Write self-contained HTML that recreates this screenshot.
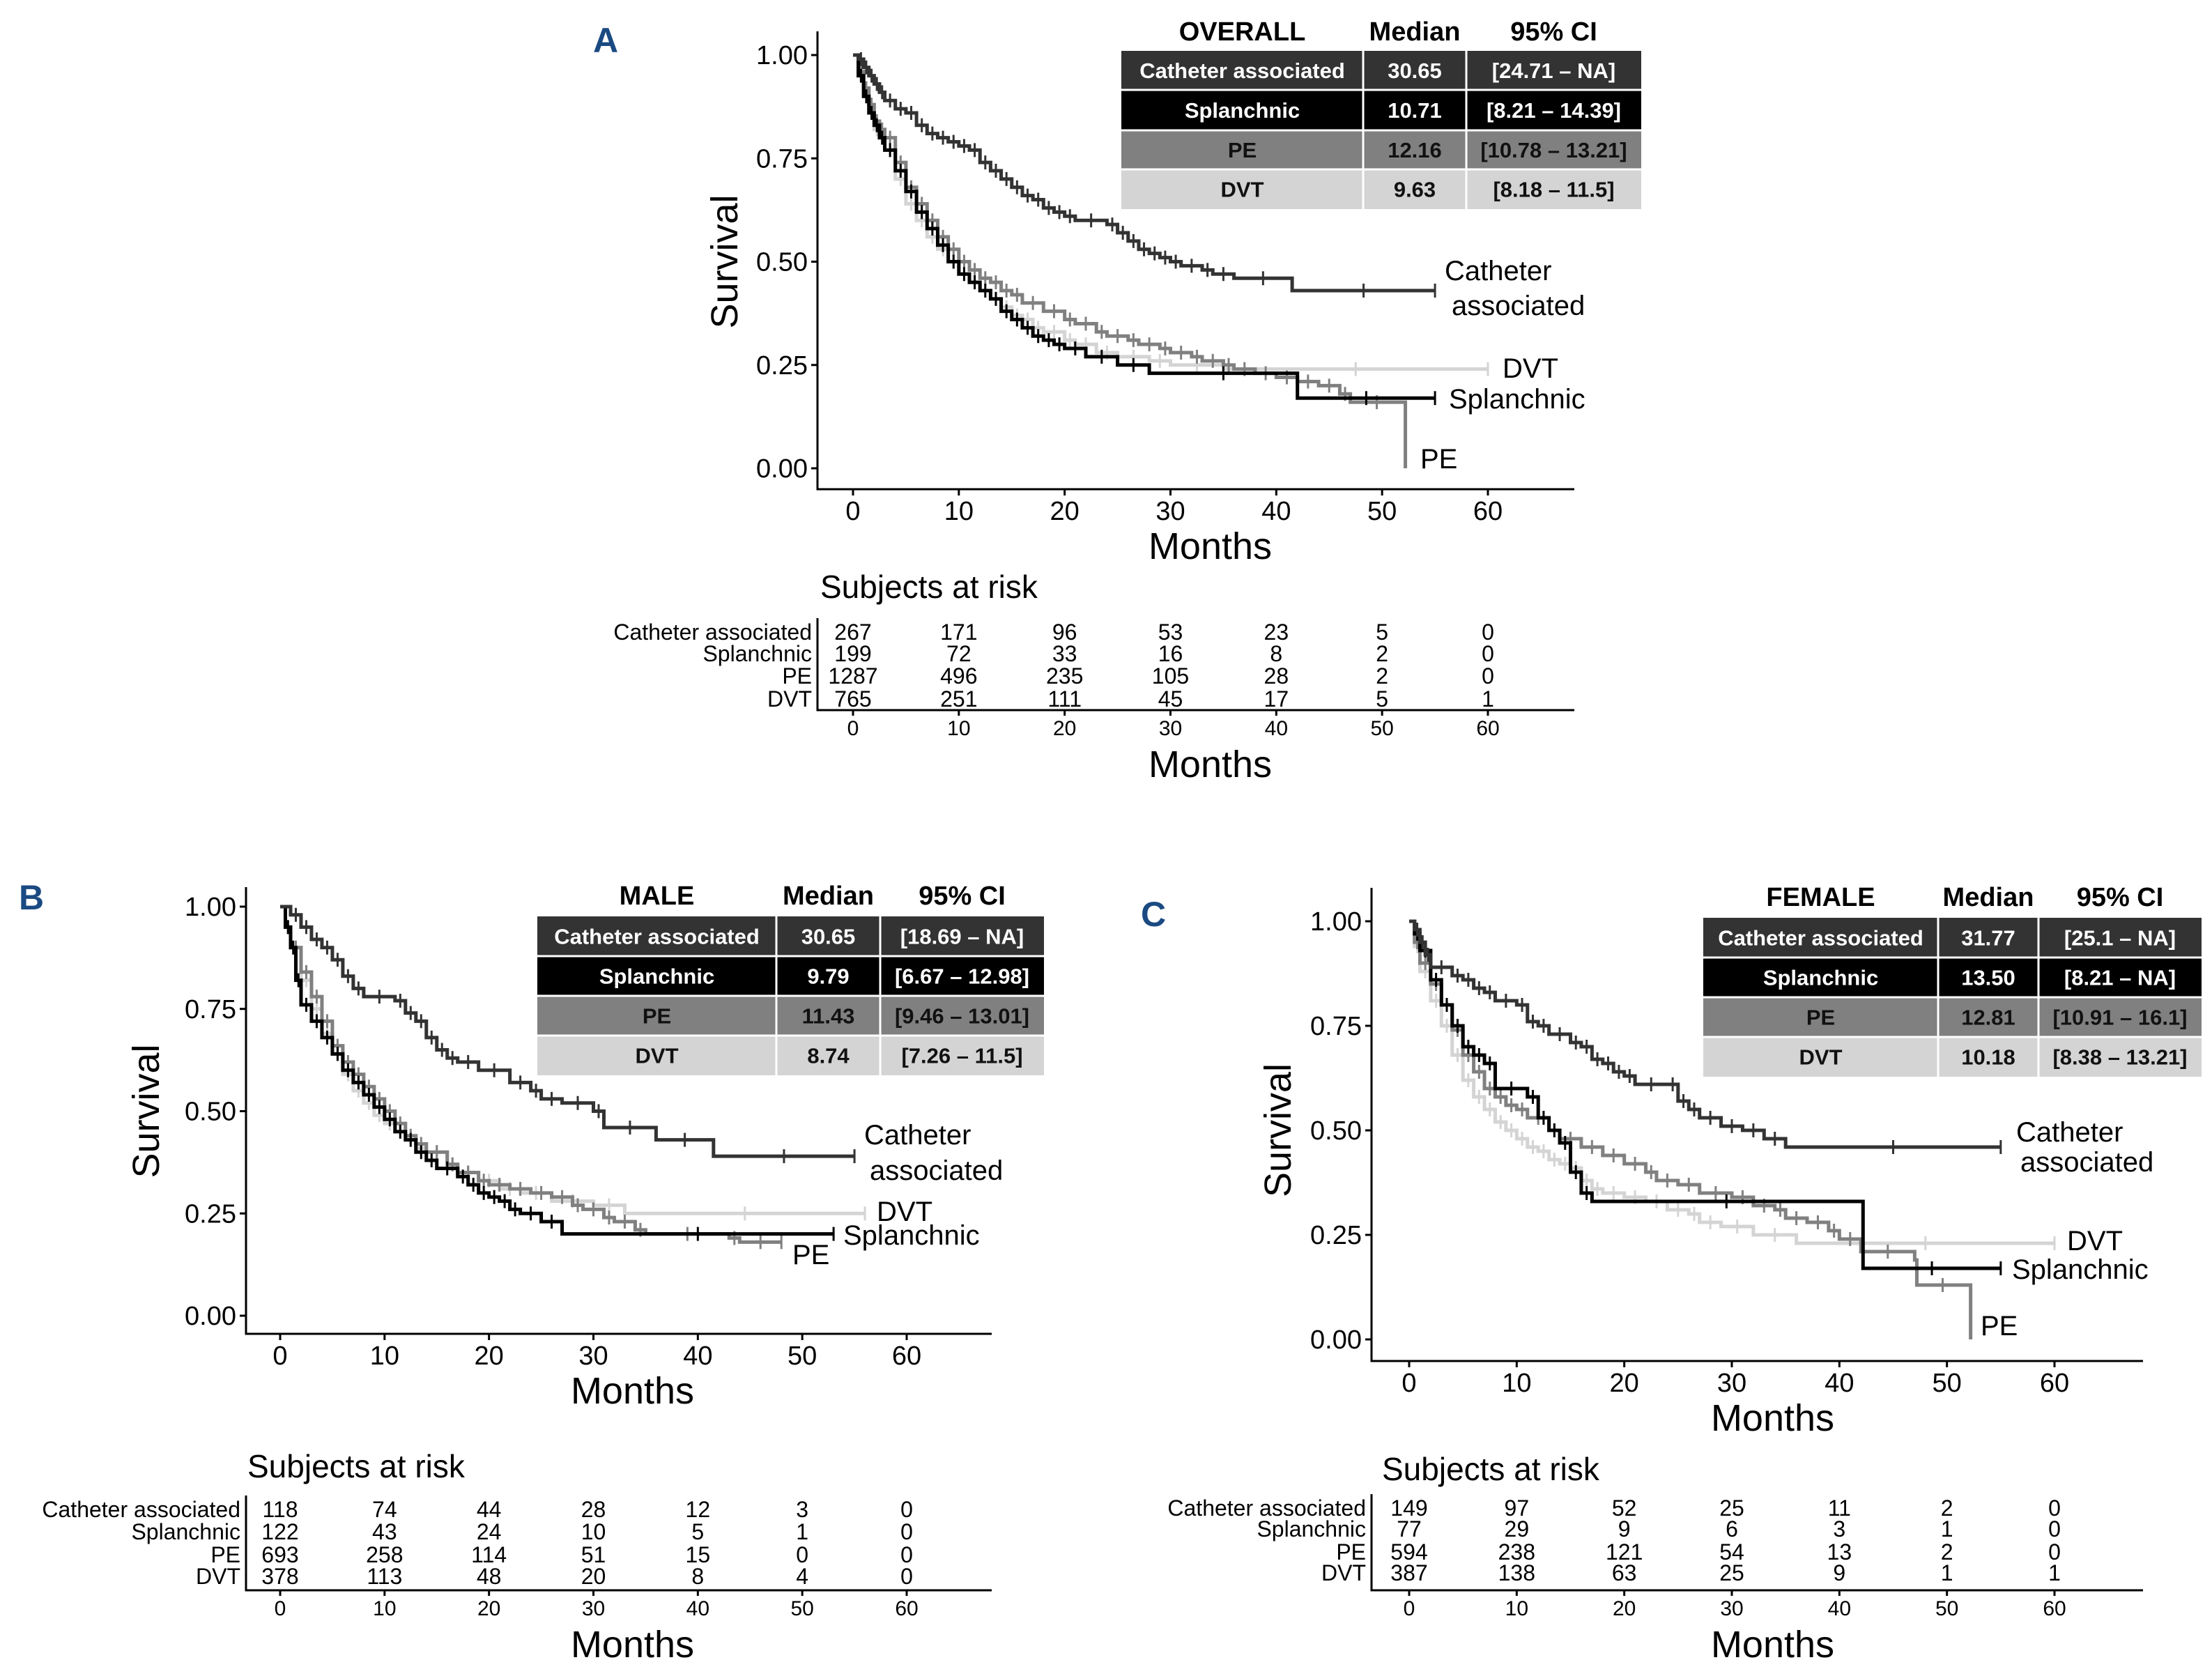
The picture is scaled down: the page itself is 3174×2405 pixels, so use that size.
<!DOCTYPE html>
<html><head><meta charset="utf-8"><style>
html,body{margin:0;padding:0;background:#fff;}
svg{display:block;font-family:"Liberation Sans",sans-serif;}
</style></head><body>
<svg id="fig" width="3174" height="2405" viewBox="0 0 3174 2405" xmlns="http://www.w3.org/2000/svg"></svg>
<script>
// ---------- DATA ----------
const xTicks = [0,10,20,30,40,50,60];
const yTicks = [0,0.25,0.5,0.75,1];
const yTickLabels = ["0.00","0.25","0.50","0.75","1.00"];
const groupNames = ["Catheter associated","Splanchnic","PE","DVT"];
// Panel A
const catA = [[0,1],[0.5,.99],[1,.97],[1.5,.95],[2,.93],[2.5,.91],[3,.89],[4,.87],[5,.86],[6,.83],[7,.81],[8,.80],[9,.79],[10,.78],[11,.77],[12,.74],[13,.72],[14,.70],[15,.68],[16,.66],[17,.65],[18,.63],[19,.62],[20,.61],[21,.60],[24,.59],[25,.57],[26,.55],[27,.53],[28,.52],[29,.51],[30,.50],[31,.49],[33,.48],[34,.47],[36,.46],[41.5,.43],[55,.43]];
const splA = [[0,1],[0.5,.95],[1,.9],[1.5,.86],[2,.83],[2.5,.80],[3,.77],[4,.72],[5,.67],[6,.62],[7,.58],[8,.54],[9,.50],[10,.47],[11,.45],[12,.43],[13,.41],[14,.38],[15,.36],[16,.34],[17,.32],[18,.31],[19,.30],[20,.29],[22,.27],[25,.25],[28,.23],[42,.17],[55,.17]];
const peA  = [[0,1],[0.5,.96],[1,.92],[1.5,.88],[2,.84],[2.5,.82],[3,.80],[4,.74],[5,.68],[6,.64],[7,.60],[8,.56],[9,.53],[10,.50],[11,.48],[12,.46],[13,.45],[14,.43],[15,.42],[16,.40],[18,.38],[20,.36],[21,.35],[23,.33],[24,.32],[26,.31],[27,.30],[29,.29],[30,.28],[32,.27],[33,.26],[35,.25],[36,.24],[38,.23],[40,.22],[42,.21],[44,.20],[46,.18],[47,.16],[52,.16],[52.2,0]];
const dvtA = [[0,1],[0.5,.95],[1,.9],[1.5,.86],[2,.82],[2.5,.80],[3,.77],[4,.70],[5,.64],[6,.60],[7,.56],[8,.53],[9,.50],[10,.47],[11,.45],[12,.43],[13,.41],[14,.39],[15,.37],[16,.36],[17,.34],[18,.33],[20,.31],[21,.30],[23,.28],[25,.27],[28,.26],[30,.25],[35,.24],[60,.24]];
const riskA = [[267,171,96,53,23,5,0],[199,72,33,16,8,2,0],[1287,496,235,105,28,2,0],[765,251,111,45,17,5,1]];
const medA = [["30.65","[24.71 – NA]"],["10.71","[8.21 – 14.39]"],["12.16","[10.78 – 13.21]"],["9.63","[8.18 – 11.5]"]];
// Panel B
const catB = [[0,1],[1,.98],[2,.95],[3,.92],[4,.9],[5,.87],[6,.83],[7,.80],[8,.78],[11,.77],[12,.74],[13,.72],[14,.68],[15,.65],[16,.63],[17,.62],[19,.60],[22,.57],[24,.55],[25,.53],[27,.52],[30,.50],[31,.46],[36,.43],[41.5,.39],[55,.39]];
const splB = [[0,1],[0.5,.95],[1,.9],[1.5,.82],[2,.76],[3,.72],[4,.68],[5,.64],[6,.60],[7,.57],[8,.54],[9,.51],[10,.48],[11,.45],[12,.43],[13,.40],[14,.38],[15,.36],[17,.34],[18,.32],[19,.30],[20,.29],[21,.28],[22,.26],[23,.25],[25,.23],[27,.20],[53,.20]];
const peB  = [[0,1],[0.5,.95],[1,.9],[2,.84],[3,.78],[4,.72],[5,.66],[6,.62],[7,.59],[8,.56],[9,.53],[10,.50],[11,.47],[12,.44],[13,.42],[14,.40],[16,.37],[17,.35],[19,.33],[20,.32],[22,.31],[24,.30],[26,.29],[28,.27],[29,.26],[31,.24],[32,.23],[34,.21],[35,.20],[43,.19],[44,.18],[48,.18]];
const dvtB = [[0,1],[0.5,.95],[1,.9],[2,.82],[3,.75],[4,.69],[5,.64],[6,.59],[7,.55],[8,.52],[9,.49],[10,.47],[11,.45],[12,.43],[13,.41],[14,.40],[16,.37],[17,.35],[19,.33],[21,.31],[23,.30],[26,.28],[30,.27],[33,.25],[56,.25]];
const riskB = [[118,74,44,28,12,3,0],[122,43,24,10,5,1,0],[693,258,114,51,15,0,0],[378,113,48,20,8,4,0]];
const medB = [["30.65","[18.69 – NA]"],["9.79","[6.67 – 12.98]"],["11.43","[9.46 – 13.01]"],["8.74","[7.26 – 11.5]"]];
// Panel C
const catC = [[0,1],[0.5,.98],[1,.95],[1.5,.92],[2,.89],[4,.87],[5,.86],[6,.84],[7,.83],[8,.81],[10,.80],[11,.76],[12,.75],[13,.73],[15,.71],[16,.70],[17,.67],[18,.66],[19,.64],[20,.63],[21,.61],[24,.61],[25,.57],[26,.55],[27,.53],[29,.51],[31,.50],[33,.48],[35,.46],[55,.46]];
const splC = [[0,1],[0.5,.97],[1,.93],[2,.86],[3,.80],[4,.75],[5,.70],[6,.68],[7,.66],[8,.60],[11,.58],[12,.53],[13,.50],[14,.47],[15,.40],[16,.35],[17,.33],[42,.33],[42.2,.17],[55,.17]];
const peC  = [[0,1],[0.5,.95],[1,.9],[2,.85],[3,.80],[4,.74],[5,.68],[6,.64],[7,.60],[8,.58],[9,.56],[10,.55],[11,.53],[13,.50],[14,.48],[16,.46],[18,.44],[20,.42],[22,.40],[23,.38],[25,.37],[27,.35],[30,.34],[32,.32],[34,.31],[35,.29],[37,.28],[39,.26],[40,.24],[42,.21],[47,.19],[47.2,.13],[52,.13],[52.2,0]];
const dvtC = [[0,1],[0.5,.94],[1,.88],[2,.81],[3,.75],[4,.68],[5,.62],[6,.58],[7,.55],[8,.52],[9,.50],[10,.48],[11,.46],[12,.45],[13,.43],[14,.42],[15,.41],[16,.38],[17,.36],[18,.35],[20,.34],[22,.33],[24,.31],[26,.30],[27,.28],[29,.27],[32,.25],[36,.23],[60,.23]];
const riskC = [[149,97,52,25,11,2,0],[77,29,9,6,3,1,0],[594,238,121,54,13,2,0],[387,138,63,25,9,1,1]];
const medC = [["31.77","[25.1 – NA]"],["13.50","[8.21 – NA]"],["12.81","[10.91 – 16.1]"],["10.18","[8.38 – 13.21]"]];

// ---------- RENDER ----------
const NS="http://www.w3.org/2000/svg";
const svg=document.getElementById('fig');
function mk(tag,attrs,parent,text){const e=document.createElementNS(NS,tag);for(const k in attrs)e.setAttribute(k,attrs[k]);if(text!==undefined)e.textContent=text;(parent||svg).appendChild(e);return e;}
const colors=["#333333","#000000","#808080","#d4d4d4"];
const textCol=["#fff","#fff","#111","#111"];

function panel(P){
  const g=mk('g',{});
  
  
  const sx=t=>P.x0+(P.x60-P.x0)*t/60;
  const sy=s=>P.y0+(P.y1-P.y0)*s;
  const L=mk('text',{x:P.lx,y:P.ly,'font-size':50,'font-weight':'bold',fill:'#1b4a82','text-anchor':'middle'},g,P.id);
  
  
  const ax=mk('path',{d:`M${P.ax} ${P.atop} V${P.ab} H${P.ar}`,stroke:'#000','stroke-width':3,fill:'none'},g);
  
  
  yTicks.forEach((v,i)=>{
    mk('line',{x1:P.ax-9,x2:P.ax,y1:sy(v),y2:sy(v),stroke:'#000','stroke-width':3},g);
    const t=mk('text',{x:P.ax-14,y:sy(v)+13,'font-size':38,'text-anchor':'end'},g,yTickLabels[i]);
    
    
  });
  xTicks.forEach(v=>{
    mk('line',{x1:sx(v),x2:sx(v),y1:P.ab,y2:P.ab+9,stroke:'#000','stroke-width':3},g);
    const t=mk('text',{x:sx(v),y:P.ab+44,'font-size':38,'text-anchor':'middle'},g,v);
    
    
  });
  const yt=mk('text',{x:0,y:0,'font-size':54,'text-anchor':'middle',transform:`translate(${P.ytx},${(sy(0)+sy(1))/2}) rotate(-90)`},g,'Survival');
  
  
  const xt=mk('text',{x:(P.x0+P.ar)/2-5,y:P.ab+100,'font-size':54,'text-anchor':'middle'},g,'Months');
  
  
  [3,2,1,0].forEach(k=>{
    const d=P.series[k];
    let p=`M${sx(d[0][0])} ${sy(d[0][1])}`;
    for(let i=1;i<d.length;i++){p+=` H${sx(d[i][0])} V${sy(d[i][1])}`;}
    const c=mk('path',{d:p,stroke:colors[k],'stroke-width':5,fill:'none'},g);
    
    
    let m='';
    for(let i=1;i<d.length-1;i++){
      const t=(d[i][0]+d[i+1][0])/2;
      if(d[i+1][0]-d[i][0]>0.4) m+=`M${sx(t)} ${sy(d[i][1])-10}v20`;
    }
    const last=d[d.length-1];
    if(last[1]>0) m+=`M${sx(last[0])} ${sy(last[1])-10}v20`;
    const cm=mk('path',{d:m,stroke:colors[k],'stroke-width':3,fill:'none'},g);
    
    
  });
  P.labels.forEach(l=>{
    const t=mk('text',{x:l[1],y:l[2]+14,'font-size':40},g,l[0]);
    
    
  });
  const T=P.tab;
  const hdr=[P.title,'Median','95% CI'];
  const cx=[(T.l+T.c1)/2,(T.c1+T.c2)/2,(T.c2+T.r)/2];
  hdr.forEach((h,i)=>{const t=mk('text',{x:cx[i],y:T.hy+13,'font-size':38,'font-weight':'bold','text-anchor':'middle'},g,h);
    
    });
  for(let r=0;r<4;r++){
    const y0=T.rows[r],y1=T.rows[r+1];
    const rect=mk('rect',{x:T.l,y:y0,width:T.r-T.l,height:y1-y0,fill:colors[r]},g);
    
    
    const vals=[groupNames[r],P.med[r][0],P.med[r][1]];
    vals.forEach((v,i)=>{const t=mk('text',{x:cx[i],y:(y0+y1)/2+11,'font-size':31,'font-weight':'bold',fill:textCol[r],'text-anchor':'middle'},g,v);
      
      });
    if(r>0) mk('line',{x1:T.l,x2:T.r,y1:y0,y2:y0,stroke:'#fff','stroke-width':3},g);
  }
  [T.c1,T.c2].forEach(x=>mk('line',{x1:x,x2:x,y1:T.rows[0],y2:T.rows[4],stroke:'#fff','stroke-width':3},g));
  const R=P.risk;
  const st=mk('text',{x:R.tx,y:R.ty+15,'font-size':46},g,'Subjects at risk');
  
  
  const rax=mk('path',{d:`M${P.ax} ${R.rows[0]-20} V${R.ab} H${P.ar}`,stroke:'#000','stroke-width':3,fill:'none'},g);
  
  
  groupNames.forEach((n,r)=>{
    const t=mk('text',{x:P.ax-8,y:R.rows[r]+11,'font-size':32,'text-anchor':'end'},g,n);
    
    
    P.riskVals[r].forEach((v,i)=>{const c=mk('text',{x:sx(xTicks[i]),y:R.rows[r]+11,'font-size':32,'text-anchor':'middle'},g,v);
      
      });
  });
  xTicks.forEach(v=>{
    mk('line',{x1:sx(v),x2:sx(v),y1:R.ab,y2:R.ab+8,stroke:'#000','stroke-width':3},g);
    const t=mk('text',{x:sx(v),y:R.ab+36,'font-size':30,'text-anchor':'middle'},g,v);
    
    
  });
  const rm=mk('text',{x:(P.x0+P.ar)/2-5,y:R.ab+96,'font-size':54,'text-anchor':'middle'},g,'Months');
  
  
}

panel({id:'A',title:'OVERALL',lx:869,ly:75,x0:1224,x60:2135,y1:79,y0:672,ax:1173,atop:45,ab:702,ar:2259,ytx:1058,
  series:[catA,splA,peA,dvtA],med:medA,riskVals:riskA,
  labels:[['Catheter',2073,388],['associated',2083,438],['DVT',2156,528],['Splanchnic',2079,572],['PE',2038,658]],
  tab:{l:1609,c1:1956,c2:2104,r:2355,hy:45,rows:[73,129,187,243,300]},
  risk:{tx:1177,ty:843,rows:[907,938,970,1003],ab:1019}});
panel({id:'B',title:'MALE',lx:45,ly:1305,x0:402,x60:1301,y1:1301,y0:1888,ax:353,atop:1273,ab:1914,ar:1423,ytx:228,
  series:[catB,splB,peB,dvtB],med:medB,riskVals:riskB,
  labels:[['Catheter',1240,1628],['associated',1248,1679],['DVT',1258,1738],['Splanchnic',1210,1772],['PE',1137,1800]],
  tab:{l:771,c1:1114,c2:1263,r:1498,hy:1285,rows:[1315,1372,1429,1486,1543]},
  risk:{tx:355,ty:2105,rows:[2166,2198,2231,2262],ab:2282}});
panel({id:'C',title:'FEMALE',lx:1655,ly:1329,x0:2022,x60:2948,y1:1322,y0:1922,ax:1968,atop:1274,ab:1953,ar:3075,ytx:1852,
  series:[catC,splC,peC,dvtC],med:medC,riskVals:riskC,
  labels:[['Catheter',2893,1624],['associated',2899,1667],['DVT',2966,1780],['Splanchnic',2887,1821],['PE',2842,1902]],
  tab:{l:2444,c1:2781,c2:2925,r:3159,hy:1287,rows:[1317,1374,1431,1488,1545]},
  risk:{tx:1983,ty:2109,rows:[2164,2194,2227,2257],ab:2282}});
</script>
</body></html>
